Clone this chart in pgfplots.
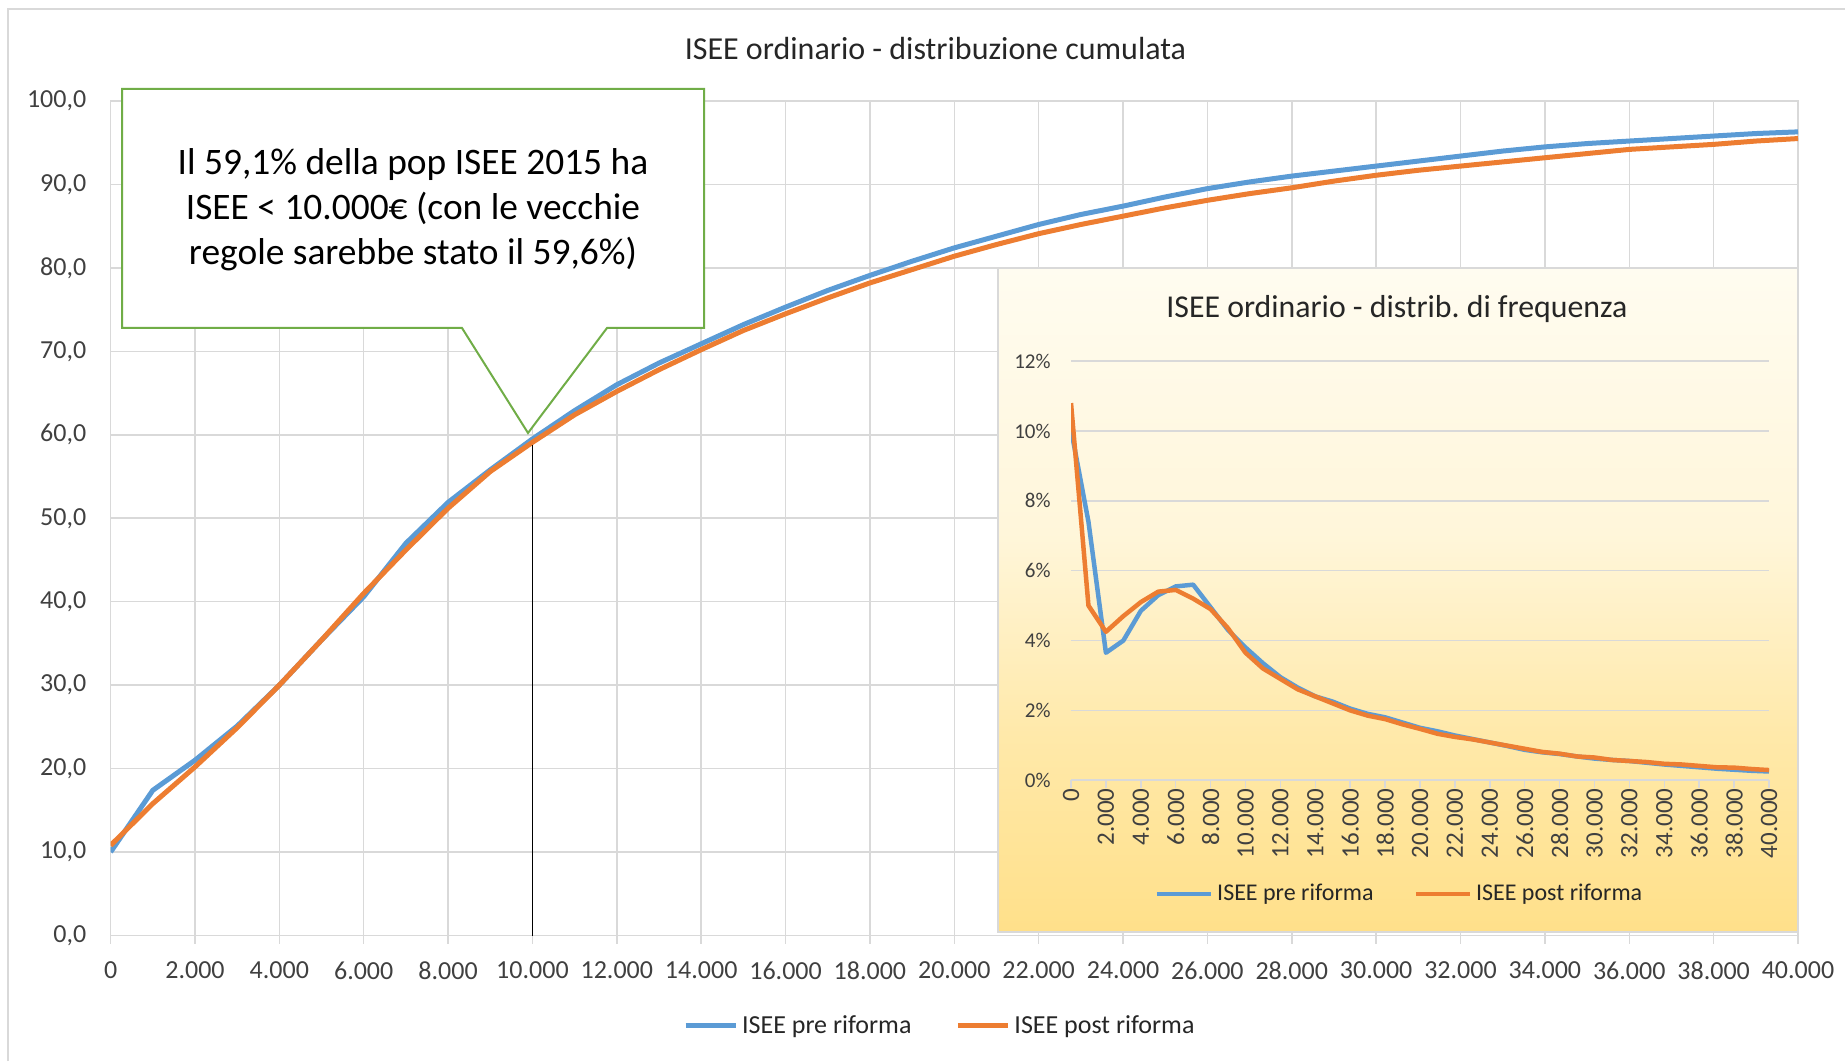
\documentclass[border=0pt]{standalone}
\usepackage{fontspec}
\setmainfont{Carlito}
\usepackage{pgfplots}
\usepackage{pgfplotstable}
\pgfplotsset{compat=1.18}
\frenchspacing

\definecolor{preblue}{HTML}{5B9BD5}
\definecolor{postorange}{HTML}{ED7D31}
\definecolor{callgreen}{HTML}{70AD47}
\definecolor{gridc}{HTML}{D9D9D9}
\definecolor{txt}{HTML}{262626}
\definecolor{ticktxt}{HTML}{404040}
\definecolor{ishb}{HTML}{FFE08A}
\definecolor{ishm1}{HTML}{FFE9AA}
\definecolor{ishm2}{HTML}{FFF6DA}
\definecolor{isht}{HTML}{FFFCF0}
\pgfdeclareverticalshading{insetshade}{100bp}{color(0bp)=(ishb); color(25bp)=(ishb); color(40bp)=(ishm1); color(55bp)=(ishm2); color(75bp)=(isht); color(100bp)=(isht)}

% cumulative distribution (%)
\pgfplotstableread{
x pre post
0 10.0 10.8
1000 17.4 15.8
2000 21.0 20.2
3000 25.1 24.9
4000 30.0 30.0
5000 35.4 35.4
6000 40.6 41.0
7000 47.0 46.2
8000 51.9 51.2
9000 55.8 55.6
10000 59.5 59.1
11000 62.9 62.4
12000 66.0 65.2
13000 68.6 67.8
14000 70.9 70.2
15000 73.2 72.5
16000 75.3 74.5
17000 77.3 76.4
18000 79.1 78.2
19000 80.8 79.8
20000 82.4 81.4
21000 83.8 82.8
22000 85.2 84.1
23000 86.4 85.2
24000 87.4 86.2
25000 88.5 87.2
26000 89.5 88.1
27000 90.3 88.9
28000 91.0 89.6
29000 91.6 90.4
30000 92.2 91.1
31000 92.8 91.7
32000 93.4 92.2
33000 94.0 92.7
34000 94.5 93.2
35000 94.9 93.7
36000 95.2 94.2
37000 95.5 94.5
38000 95.8 94.8
39000 96.1 95.2
40000 96.3 95.5
}\cumtab

% frequency distribution (%)
\pgfplotstableread{
x pre post
0 10.05 10.8
1000 7.4 5.0
2000 3.65 4.25
3000 4.0 4.7
4000 4.85 5.1
5000 5.3 5.4
6000 5.55 5.45
7000 5.6 5.2
8000 4.95 4.9
9000 4.3 4.35
10000 3.8 3.65
11000 3.35 3.2
12000 2.95 2.9
13000 2.65 2.6
14000 2.4 2.4
15000 2.25 2.2
16000 2.05 2.0
17000 1.9 1.85
18000 1.8 1.75
19000 1.65 1.6
20000 1.5 1.47
21000 1.4 1.33
22000 1.28 1.24
23000 1.18 1.17
24000 1.08 1.08
25000 0.98 0.99
26000 0.87 0.9
27000 0.8 0.81
28000 0.75 0.76
29000 0.68 0.68
30000 0.62 0.65
31000 0.58 0.58
32000 0.55 0.55
33000 0.5 0.52
34000 0.45 0.47
35000 0.41 0.45
36000 0.37 0.41
37000 0.33 0.37
38000 0.3 0.36
39000 0.27 0.32
40000 0.25 0.29
}\freqtab

\begin{document}
\begin{tikzpicture}
\useasboundingbox (0,0) rectangle (922.5pt,530.5pt);
\draw[gridc, line width=1pt] (4pt,0) -- (4pt,526pt) -- (922.5pt,526pt);

\node[font=\fontsize{16}{19}\selectfont, text=txt] at (467.75pt,506pt) {ISEE ordinario - distribuzione cumulata};

\begin{axis}[
  at={(55.3pt,62.75pt)}, anchor=south west,
  scale only axis, width=843.7pt, height=417.25pt,
  xmin=0, xmax=40000, ymin=0, ymax=100,
  xtick={0,2000,...,40000}, ytick={0,10,...,100},
  grid=major, major grid style={gridc, line width=0.75pt},
  axis line style={gridc, line width=0.75pt},
  xtick style={gridc, line width=0.75pt},
  ytick style={draw=none},
  xtick pos=left, tick align=outside, major tick length=4pt,
  scaled ticks=false,
  /pgf/number format/assume math mode=true,
  x tick label style={/pgf/number format/1000 sep={.}},
  y tick label style={/pgf/number format/fixed, /pgf/number format/fixed zerofill, /pgf/number format/precision=1, /pgf/number format/use comma},
  xticklabel style={font=\fontsize{13}{15}\selectfont, text=ticktxt, anchor=north, inner sep=0pt, yshift=-9pt},
  yticklabel style={font=\fontsize{13}{15}\selectfont, text=ticktxt, anchor=east, inner sep=0pt, xshift=-8pt},
  legend style={at={(0.492,-0.1084)}, anchor=center, draw=none, fill=none,
    legend columns=-1, font=\fontsize{13}{15}\selectfont, text=txt,
    /tikz/every even column/.append style={column sep=20pt}},
  legend image code/.code={\draw[#1] (0pt,0pt) -- (25pt,0pt);},
]
\addplot[preblue, line width=2.5pt, line join=round] table[x=x, y=pre]{\cumtab};
\addlegendentry{ISEE pre riforma}
\addplot[postorange, line width=2.5pt, line join=round] table[x=x, y=post]{\cumtab};
\addlegendentry{ISEE post riforma}
\draw[black, line width=0.6pt] (axis cs:10000,0) -- (axis cs:10000,58.8);
\end{axis}

% callout
\draw[callgreen, line width=1pt, fill=white] (61pt,486pt) -- (352pt,486pt) -- (352pt,366.5pt) -- (303.5pt,366.5pt) -- (264pt,314pt) -- (231pt,366.5pt) -- (61pt,366.5pt) -- cycle;
\node[align=center, font=\fontsize{18.7}{22.5}\selectfont, text=black] at (206.5pt,425.5pt)
  {Il 59,1\% della pop ISEE 2015 ha\\ISEE < 10.000€ (con le vecchie\\regole sarebbe stato il 59,6\%)};

% inset
\shadedraw[shading=insetshade, draw=gridc, line width=1.25pt] (499pt,64.5pt) rectangle (899pt,396.5pt);
\node[font=\fontsize{15.9}{19}\selectfont, text=txt] at (698.5pt,376pt) {ISEE ordinario - distrib. di frequenza};

\begin{axis}[
  at={(535.5pt,140.4pt)}, anchor=south west,
  scale only axis, width=349pt, height=209.5pt,
  xmin=0, xmax=40000, ymin=0, ymax=12,
  xtick={0,2000,...,40000}, ytick={0,2,...,12},
  ymajorgrids, major grid style={gridc, line width=0.75pt},
  axis x line*=bottom, axis y line*=left,
  x axis line style={gridc, line width=0.75pt},
  y axis line style={draw=none},
  xtick style={gridc, line width=0.75pt},
  ytick style={draw=none},
  tick align=outside, major tick length=4pt,
  scaled ticks=false,
  /pgf/number format/assume math mode=true,
  x tick label style={/pgf/number format/1000 sep={.}},
  yticklabel={\pgfmathprintnumber{\tick}\%},
  xticklabel style={font=\fontsize{12.5}{14}\selectfont, text=ticktxt, rotate=90, anchor=east, inner sep=0pt, yshift=0pt},
  yticklabel style={font=\fontsize{10.5}{12}\selectfont, text=ticktxt, anchor=east, inner sep=0pt, xshift=-6pt},
  legend style={at={(0.472,-0.2716)}, anchor=center, draw=none, fill=none,
    legend columns=-1, font=\fontsize{12}{14}\selectfont, text=txt,
    /tikz/every even column/.append style={column sep=18pt}},
  legend image code/.code={\draw[#1] (0pt,0pt) -- (27pt,0pt);},
]
\addplot[preblue, line width=2.25pt, line join=round] table[x=x, y=pre]{\freqtab};
\addlegendentry{ISEE pre riforma}
\addplot[postorange, line width=2.25pt, line join=round] table[x=x, y=post]{\freqtab};
\addlegendentry{ISEE post riforma}
\end{axis}
\end{tikzpicture}
\end{document}
